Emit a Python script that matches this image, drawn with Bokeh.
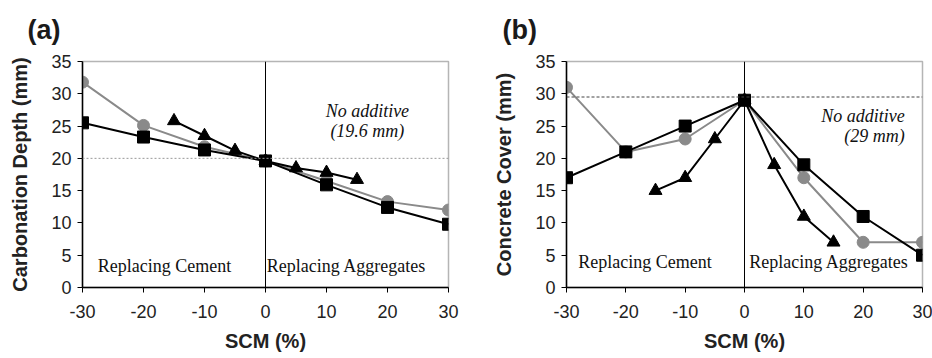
from bokeh.plotting import figure
from bokeh.layouts import row
from bokeh.models import Span, Label, FixedTicker
from bokeh.embed import file_html
from bokeh.resources import INLINE

# ---- data ----
x_full = [-30, -20, -10, 0, 10, 20, 30]
x_tri = [-15, -10, -5, 0, 5, 10, 15]

a_circle = [31.8, 25.1, 21.8, 19.6, 16.5, 13.3, 12.0]
a_square = [25.5, 23.3, 21.3, 19.6, 15.9, 12.4, 9.8]
a_triangle = [25.8, 23.5, 21.2, 19.6, 18.5, 17.8, 16.7]
a_ref = 20.0

b_circle = [31, 21, 23, 29, 17, 7, 7]
b_square = [17, 21, 25, 29, 19, 11, 5]
b_triangle = [15, 17, 23, 29, 19, 11, 7]
b_ref = 29.5

x_ticks = [-30, -20, -10, 0, 10, 20, 30]
y_ticks = [0, 5, 10, 15, 20, 25, 30, 35]

GRAY = "#8a8a8a"
SANS = "Liberation Sans"
SERIF = "Liberation Serif"


def make_panel(title, ylabel, circ, sq, tri, ref, ref_color, ref_dash, left, right,
               title_offset, notes):
    p = figure(width=466, height=358, x_range=(-30, 30), y_range=(0, 35),
               output_backend="svg", toolbar_location=None,
               min_border_left=left, min_border_right=right,
               min_border_top=61, min_border_bottom=71)
    p.title.text = title
    p.title.text_font = SANS
    p.title.text_font_size = "27px"
    p.title.text_font_style = "bold"
    p.title.text_color = "#1a1a1a"
    p.title.offset = title_offset
    p.title.vertical_align = "top"
    p.title.standoff = 29
    p.xgrid.visible = False
    p.ygrid.visible = False
    p.outline_line_color = "#b5b5b5"
    p.outline_line_width = 1.5
    p.background_fill_color = "white"
    p.border_fill_color = "white"

    for ax in (p.xaxis[0], p.yaxis[0]):
        ax.axis_line_color = "black"
        ax.axis_line_width = 1.5
        ax.major_tick_line_color = "black"
        ax.major_tick_out = 5
        ax.major_tick_in = 0
        ax.minor_tick_line_color = None
        ax.major_label_text_font = SANS
        ax.major_label_text_font_size = "18px"
        ax.major_label_text_color = "#222222"
        ax.axis_label_text_font = SANS
        ax.axis_label_text_font_size = "20px"
        ax.axis_label_text_font_style = "bold"
        ax.axis_label_text_color = "#222222"
    p.xaxis.ticker = FixedTicker(ticks=x_ticks)
    p.yaxis.ticker = FixedTicker(ticks=y_ticks)
    p.xaxis.major_label_overrides = {t: str(t) for t in x_ticks}
    p.xaxis.axis_label = "SCM (%)"
    p.yaxis.axis_label = ylabel
    p.xaxis.major_label_standoff = 12
    p.xaxis.axis_label_standoff = 9
    p.yaxis.major_label_standoff = 6
    p.yaxis.axis_label_standoff = 17

    p.add_layout(Span(location=ref, dimension="width", line_color=ref_color,
                      line_dash=ref_dash, line_width=1))
    p.add_layout(Span(location=0, dimension="height", line_color="black", line_width=1))

    p.line(x_full, circ, line_color=GRAY, line_width=2)
    p.scatter(x_full, circ, marker="circle", size=12, fill_color=GRAY, line_color=GRAY)
    p.line(x_tri, tri, line_color="black", line_width=2)
    p.scatter(x_tri, tri, marker="triangle", size=13, fill_color="black", line_color="black")
    p.line(x_full, sq, line_color="black", line_width=2)
    p.scatter(x_full, sq, marker="square", size=12, fill_color="black", line_color="black")

    for (tx, ty, txt, style, align) in notes:
        p.add_layout(Label(x=tx, y=ty, text=txt, text_font=SERIF, text_font_size="18px",
                           text_font_style=style, text_align=align, text_baseline="middle",
                           text_color="#111111"))
    return p


pa = make_panel("(a)", "Carbonation Depth (mm)", a_circle, a_square, a_triangle,
                a_ref, "#999999", "2 2", 82, 18, -55,
                [(16.7, 27.4, "No additive", "italic", "center"),
                 (16.7, 24.3, "(19.6 mm)", "italic", "center"),
                 (-27.5, 3.4, "Replacing Cement", "normal", "left"),
                 (0.2, 3.4, "Replacing Aggregates", "normal", "left")])

pb = make_panel("(b)", "Concrete Cover (mm)", b_circle, b_square, b_triangle,
                b_ref, "#444444", "3 2", 100, 10, -64,
                [(27.0, 26.6, "No additive", "italic", "right"),
                 (27.0, 23.5, "(29 mm)", "italic", "right"),
                 (-28.0, 3.9, "Replacing Cement", "normal", "left"),
                 (0.8, 3.9, "Replacing Aggregates", "normal", "left")])

layout = row(pa, pb)
open("out.html", "w").write(file_html(layout, INLINE))
